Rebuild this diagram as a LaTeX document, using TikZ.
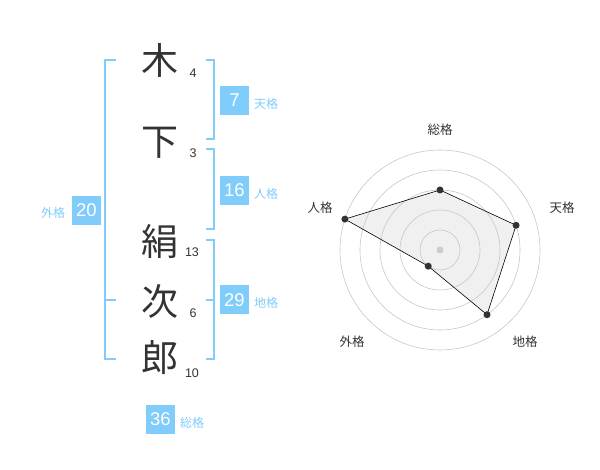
\documentclass[tikz,border=0pt]{standalone}
\usepackage{fontspec}
\setmainfont{Liberation Sans}
\newfontfamily\cjk{Noto Sans CJK JP}
\definecolor{kaku}{RGB}{128,204,250}
\definecolor{ink}{RGB}{51,51,51}
\begin{document}
\begin{tikzpicture}[x=1pt,y=-1pt,
  kanji/.style={font=\cjk\fontsize{37}{37}\selectfont,text=ink,inner sep=0pt},
  strokes/.style={font=\fontsize{12.5}{12.5}\selectfont,text=ink,inner sep=0pt},
  kakubox/.style={fill=kaku,text=white,minimum size=29pt,inner sep=0pt,font=\fontsize{18.5}{18.5}\selectfont},
  kakuname/.style={font=\cjk\fontsize{12}{12}\selectfont,text=kaku,inner sep=0pt},
  bracket/.style={draw=kaku,line width=2pt},
  ring/.style={draw=black!22,line width=0.6pt},
  radarname/.style={font=\cjk\fontsize{12.5}{12.5}\selectfont,text=ink,inner sep=0pt},
  dot/.style={circle,fill=ink,inner sep=0pt,minimum size=7pt}]
\useasboundingbox (0,0) rectangle (600,470);
\node[kanji] (K1) at (160,60) {木};
\node[kanji] (K2) at (160,143) {下};
\node[kanji] (K3) at (160,241) {絹};
\node[kanji] (K4) at (160,301) {次};
\node[kanji] (K5) at (160,358) {郎};
\node[strokes] (N1) at (193,73) {4};
\node[strokes] (N2) at (193,153) {3};
\node[strokes] (N3) at (192,252) {13};
\node[strokes] (N4) at (193,313) {6};
\node[strokes] (N5) at (192,373) {10};
\draw[bracket] (116,60) -| (105,359) -- (116,359);
\draw[bracket] (105,300) -- (116,300);
\draw[bracket] (206,60) -| (214,139) -- (206,139);
\draw[bracket] (206,149) -| (214,229) -- (206,229);
\draw[bracket] (206,240) -| (214,359) -- (206,359);
\draw[bracket] (206,300) -- (214,300);
\node[kakubox] (Ten) at (234.5,100.5) {7};
\node[kakubox] (Jin) at (234.5,190.5) {16};
\node[kakubox] (Chi) at (234.5,300) {29};
\node[kakubox] (Gai) at (86.5,210.5) {20};
\node[kakubox] (Sou) at (160.5,419) {36};
\node[kakuname] (TenL) at (266,104) {天格};
\node[kakuname] (JinL) at (266,194) {人格};
\node[kakuname] (ChiL) at (266,303) {地格};
\node[kakuname] (GaiL) at (53,213) {外格};
\node[kakuname] (SouL) at (192,423) {総格};
\begin{scope}[shift={(440,250)},yscale=-1]
\coordinate (S) at (90:60);
\coordinate (T) at (18:80);
\coordinate (C) at (-54:80);
\coordinate (G) at (-126:20);
\coordinate (J) at (162:100);
\fill[black!6] (S) -- (T) -- (C) -- (G) -- (J) -- cycle;
\foreach \r in {20,40,...,100}
  \draw[ring] (0,0) circle (\r pt);
\draw[line width=0.6pt] (S) -- (T) -- (C) -- (G) -- (J) -- cycle;
\fill[black!20] (0,0) circle (3.5pt);
\foreach \p in {S,T,C,G,J}
  \node[dot] at (\p) {};
\end{scope}
\node[radarname] (RS) at (440,130) {総格};
\node[radarname] (RT) at (562,208) {天格};
\node[radarname] (RC) at (525,342) {地格};
\node[radarname] (RG) at (352,342) {外格};
\node[radarname] (RJ) at (320,208) {人格};
\end{tikzpicture}
\end{document}
